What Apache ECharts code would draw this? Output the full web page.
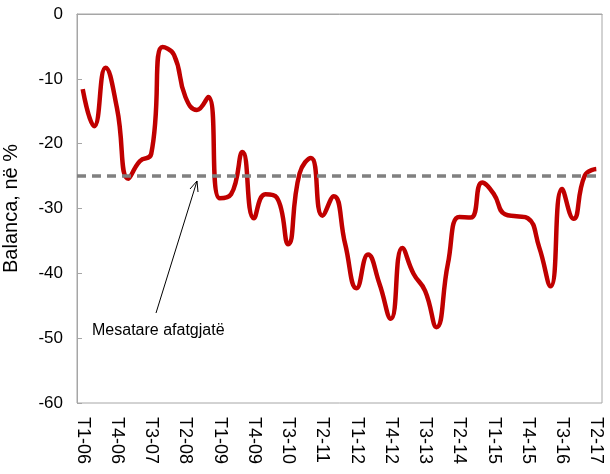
<!DOCTYPE html>
<html>
<head>
<meta charset="utf-8">
<script src="https://cdn.jsdelivr.net/npm/echarts@6/dist/echarts.min.js"></script>
<style>
  body { margin: 0; background: #fff; }
  #chart { width: 610px; height: 474px; }
</style>
</head>
<body>
<div id="chart"></div>
<script>
// tremujoret T1-06 ... T2-17
var quarters = [];
for (var yr = 6; yr <= 17; yr++) {
  for (var q = 1; q <= 4; q++) {
    if (yr === 17 && q > 2) break;
    quarters.push('T' + q + '-' + (yr < 10 ? '0' + yr : yr));
  }
}

var balanca = [
  -11.6, -17.3, -8.3, -14.5, -25.4, -22.7, -21.6, -5.1, -6.3, -12.8,
  -14.8, -12.8, -28.4, -27.8, -21.3, -31.5, -27.8, -28.3, -35.5, -24.6,
  -22.2, -31.1, -28.1, -35.5, -42.3, -37.1, -41.6, -47.0, -36.1, -40.1,
  -42.7, -48.3, -38.5, -31.3, -31.4, -26.0, -27.7, -30.9, -31.2, -31.5,
  -36.0, -42.0, -27.0, -31.6, -24.9, -23.9
];

var mesatarja = -25;
var yTicks = [0, -10, -20, -30, -40, -50, -60];

var myChart = echarts.init(document.getElementById('chart'));
var option = {
  animation: false,
  textStyle: { fontFamily: 'Liberation Sans, Arial, sans-serif' },
  grid: {
    left: 77, right: 8, top: 14, bottom: 71,
    outerBoundsMode: 'none',
    containLabel: false,
    show: true, borderColor: '#a6a6a6', borderWidth: 1
  },
  xAxis: {
    type: 'category',
    data: quarters,
    boundaryGap: true,
    axisLine: { lineStyle: { color: '#a6a6a6', width: 1 } },
    axisTick: { show: false },
    axisLabel: {
      interval: 2,
      rotate: -90,
      color: '#000',
      fontSize: 18,
      margin: 14
    }
  },
  yAxis: {
    type: 'value',
    min: -60, max: 0, interval: 10,
    name: 'Balanca, në %',
    nameLocation: 'middle',
    nameGap: 56,
    nameTextStyle: { fontSize: 20, color: '#000' },
    splitLine: { show: false },
    axisLine: { show: true, lineStyle: { color: '#a6a6a6', width: 1 } },
    axisTick: { show: true, inside: true, length: 5, lineStyle: { color: '#a6a6a6' } },
    axisLabel: {
      color: '#000', fontSize: 17, margin: 14,
      formatter: function (v) { return yTicks.indexOf(v) >= 0 ? String(v) : ''; }
    }
  },
  series: [{
    type: 'line',
    data: balanca,
    smooth: 0.5,
    symbol: 'none',
    lineStyle: { color: '#c00000', width: 4.5 },
    z: 3,
    markLine: {
      silent: true,
      symbol: 'none',
      label: { show: false },
      lineStyle: { color: '#808080', type: [9, 6], width: 3.5 },
      data: [{ yAxis: mesatarja }],
      z: 4
    }
  }],
  graphic: [
    {
      type: 'line',
      shape: { x1: 156, y1: 313, x2: 197, y2: 181 },
      style: { stroke: '#000', lineWidth: 1 }
    },
    {
      type: 'polyline',
      shape: { points: [[190, 189], [197, 181], [198, 192]] },
      style: { stroke: '#000', lineWidth: 1, fill: null }
    },
    {
      type: 'text',
      left: 92, top: 323,
      style: {
        text: 'Mesatare afatgjatë',
        fill: '#000',
        font: '16px Liberation Sans, Arial, sans-serif'
      }
    }
  ]
};
myChart.setOption(option);
</script>
</body>
</html>
